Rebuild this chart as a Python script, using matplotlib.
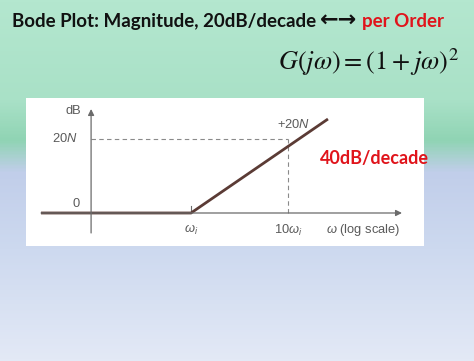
import numpy as np
import matplotlib
matplotlib.use('Agg')
import matplotlib.pyplot as plt
from matplotlib.colors import LinearSegmentedColormap

plt.rcParams['mathtext.fontset'] = 'custom'
plt.rcParams['mathtext.rm'] = 'Liberation Sans'
plt.rcParams['mathtext.it'] = 'Liberation Sans:italic'

# asymptotic magnitude, x in units of w/wi, y in units of 20N dB
w_line = [10 ** -1.546, 1.0, 10 ** 1.412]
mag_line = [0.0, 0.0, 1.27]
corner_ticks = [1.0, 10.0]
tick_labels = [r'$\omega_i$', r'$10\omega_i$']
level_20N = 1.0

W, H = 474, 361
fig = plt.figure(figsize=(W / 100, H / 100), dpi=100)

# slide background gradient (mint -> blue)
stops_y = [0, 100, 140, 172, 250, 361]
stops_c = ['#b4e7cf', '#a9e1c7', '#90d4b4', '#c1ceea', '#cdd9ef', '#e3e9f6']
bg = fig.add_axes([0, 0, 1, 1])
bg.set_axis_off()
cmap = LinearSegmentedColormap.from_list(
    'bg', list(zip(np.array(stops_y) / H, stops_c)))
grad = np.linspace(0, 1, H).reshape(-1, 1)
bg.imshow(grad, aspect='auto', cmap=cmap, extent=[0, 1, 0, 1], origin='upper')
bg.set_xlim(0, 1)
bg.set_ylim(0, 1)

# title in three pieces, placed one after the other
ty = 1 - 21 / H
t1 = fig.text(12 / W, ty, 'Bode Plot: Magnitude, 20dB/decade', family='Lato',
              weight='bold', fontsize=13.5, color='#111111', va='center',
              ha='left')
t2 = fig.text(321 / W, ty + 1 / H, '\u2190\u2192', family='DejaVu Sans',
              weight='bold', fontsize=16, color='#111111', va='center',
              ha='left')
t3 = fig.text(363 / W, ty, 'per Order', family='Lato', weight='bold',
              fontsize=13.5, color='#e0141b', va='center', ha='left')
fig.canvas.draw()
r = fig.canvas.get_renderer()
x1 = t1.get_window_extent(r).x1
t2.set_x((x1 + 4) / W)
x2 = t2.get_window_extent(r).x1
t3.set_x((x2 + 5) / W)

fig.text(459 / W, 1 - 62 / H, r'$G(j\omega) = (1 + j\omega)^2$',
         math_fontfamily='stix', fontsize=19, color='#111111',
         va='center', ha='right')

# white picture box holding the plot
ax = fig.add_axes([26 / W, 1 - 246 / H, 398 / W, 148 / H])
ax.set_facecolor('white')
ax.set_xscale('log')
ax.set_xlim(10 ** -1.701, 10 ** 2.402)
ax.set_ylim(-0.446, 1.554)
for s in ax.spines.values():
    s.set_visible(False)
ax.set_xticks([])
ax.set_yticks([])
ax.minorticks_off()

axcol = '#6b6b6b'
x_yaxis = 10 ** -1.03
# axes with arrows
ax.annotate('', xy=(10 ** 2.175, 0), xytext=(w_line[0], 0),
            arrowprops=dict(arrowstyle='-|>', color=axcol, lw=0.9,
                            mutation_scale=9, shrinkA=0, shrinkB=0))
ax.annotate('', xy=(x_yaxis, 1.405), xytext=(x_yaxis, -0.27),
            arrowprops=dict(arrowstyle='-|>', color=axcol, lw=0.9,
                            mutation_scale=9, shrinkA=0, shrinkB=0))

# dashed guides
ax.plot([x_yaxis, corner_ticks[1]], [level_20N, level_20N], ls=(0, (4, 3)),
        color='#8a8a8a', lw=0.8)
ax.plot([corner_ticks[1], corner_ticks[1]], [0, level_20N], ls=(0, (4, 3)),
        color='#8a8a8a', lw=0.8)
# corner tick
ax.plot([corner_ticks[0], corner_ticks[0]], [0, 0.09], color=axcol, lw=0.8)

ax.plot(w_line, mag_line, color='#5b3b35', lw=2.0, solid_capstyle='butt')

tc = '#5a5a5a'
fs = 9.3
ax.text(10 ** -1.13, 1.38, 'dB', color=tc, fontsize=fs, family='Liberation Sans',
        ha='right', va='center')
ax.text(10 ** -1.17, level_20N, r'20$N$', color=tc, fontsize=fs,
        family='Liberation Sans', ha='right', va='center')
ax.text(10 ** -1.15, 0.12, '0', color=tc, fontsize=fs,
        family='Liberation Sans', ha='right', va='center')
for xv, lab in zip(corner_ticks, tick_labels):
    ax.text(xv, -0.23, lab, color=tc, fontsize=fs, ha='center', va='center')
ax.text(10 ** 1.77, -0.23, r'$\omega$ (log scale)', color=tc, fontsize=fs,
        family='Liberation Sans', ha='center', va='center')
ax.text(10 ** 1.06, 1.20, r'+20$N$', color=tc, fontsize=fs,
        family='Liberation Sans', ha='center', va='center')
ax.text(10 ** 1.89, 0.73, '40dB/decade', color='#e0141b', fontsize=13,
        family='Lato', weight='bold', ha='center', va='center', clip_on=False)

fig.savefig('out.png', dpi=100)
